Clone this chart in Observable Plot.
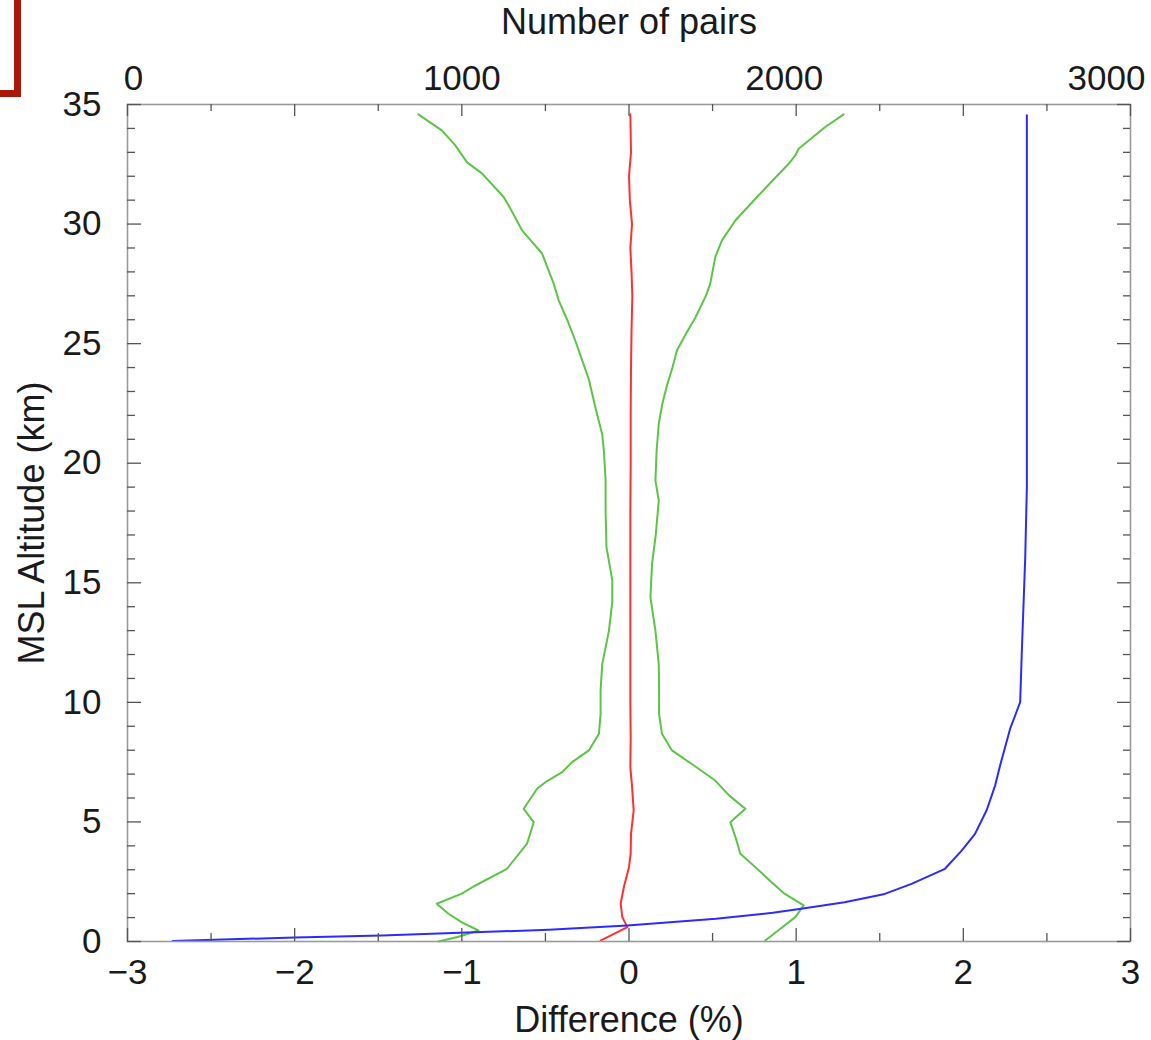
<!DOCTYPE html>
<html><head><meta charset="utf-8">
<script src="https://cdn.jsdelivr.net/npm/d3@7"></script>
<script src="https://cdn.jsdelivr.net/npm/@observablehq/plot@0.6"></script>
<style>
body{margin:0;background:#fff;}
#wrap{position:relative;width:1151px;height:1040px;overflow:hidden;background:#fff;}
#box{position:absolute;left:-20px;top:-20px;width:41px;height:117px;box-sizing:border-box;border:7px solid #a8190b;}
#chart{position:absolute;left:0;top:0;}
</style>
</head><body>
<div id="wrap"><div id="chart"></div><div id="box"></div></div>
<script>
// Mean difference (%) vs altitude (km)
const meanAlt  = [0.04,0.6,1.02,1.58,2.3,3.11,3.67,4.5,5.48,6.5,7.29,8.5,10,12,15,18,20,22,24,25.5,27,28,29,30,31,32,33,34.59];
const meanDiff = [-0.17,-0.01,-0.04,-0.05,-0.03,0.0,0.01,0.012,0.028,0.018,0.008,0.01,0.008,0.008,0.008,0.008,0.01,0.01,0.012,0.015,0.02,0.015,0.008,0.018,0.005,0.0,0.012,0.008];

// Mean - 1 sigma
const lowAlt  = [0.0,0.2,0.46,0.8,1.16,1.58,2.0,2.3,3.04,4.09,4.99,5.55,6.39,6.66,7.08,7.5,7.99,8.69,9.5,10.5,11.6,13.0,14.2,15.1,16.5,18.0,19.3,20.5,21.2,22.3,23.5,24.5,25.1,26.0,26.8,27.5,28.77,29.74,30.78,31.13,32.12,32.59,33.3,33.92,34.59];
const lowDiff = [-1.14,-1.02,-0.90,-1.0,-1.08,-1.15,-1.0,-0.93,-0.73,-0.61,-0.57,-0.63,-0.55,-0.50,-0.40,-0.34,-0.24,-0.18,-0.17,-0.17,-0.16,-0.12,-0.10,-0.10,-0.135,-0.14,-0.14,-0.15,-0.16,-0.20,-0.24,-0.29,-0.32,-0.37,-0.42,-0.45,-0.52,-0.64,-0.72,-0.75,-0.88,-0.97,-1.04,-1.12,-1.26];

// Mean + 1 sigma
const highAlt  = [0.04,0.5,1.02,1.51,2.0,2.5,3.11,3.67,4.3,4.99,5.55,6.1,6.73,7.4,7.99,8.69,9.5,10.5,11.6,13.0,14.4,15.8,17.0,18.44,19.28,20.5,21.65,22.5,23.25,24.0,24.72,25.4,26.06,27.0,27.51,28.62,29.32,30.15,31.06,32.52,32.87,33.15,34.06,34.59];
const highDiff = [0.815,0.9,0.995,1.045,0.93,0.85,0.756,0.666,0.64,0.606,0.696,0.6,0.516,0.38,0.257,0.197,0.18,0.18,0.178,0.158,0.128,0.138,0.16,0.178,0.158,0.165,0.178,0.2,0.227,0.26,0.287,0.34,0.395,0.46,0.486,0.516,0.556,0.636,0.756,0.955,0.995,1.015,1.174,1.284];

// Number of pairs vs altitude (top axis)
const pairsAlt = [0.02,0.17,0.25,0.49,0.67,0.95,1.2,1.37,1.64,1.99,2.41,3.04,3.8,4.5,5.5,6.52,7.36,8.9,9.45,10.01,12.17,16,19,25,34.55];
const pairsN   = [135,500,760,1260,1495,1760,1930,2015,2145,2265,2345,2445,2495,2535,2570,2595,2610,2640,2655,2670,2675,2685,2690,2690,2690];

// Axis ticks and labels
const diffLabels  = [-3,-2,-1,0,1,2,3];
const diffMinor   = [-2.5,-1.5,-0.5,0.5,1.5,2.5];
const altLabels   = [0,5,10,15,20,25,30,35];
const altMinor    = [1,2,3,4,6,7,8,9,11,12,13,14,16,17,18,19,21,22,23,24,26,27,28,29,31,32,33,34];
const pairsLabels = [0,1000,2000,3000];
const pairsMajor  = [0,500,1000,1500,2000,2500,3000];
const pairsMinor  = [250,750,1250,1750,2250,2750];

// top axis (0..3000 pairs) shares the frame with bottom axis (-3..3 %)
const pairsToX = p => p / 500 - 3;

const W = 1151, H = 1040, ML = 127, MR = 21, MT = 104, MB = 99;
const PW = W - ML - MR, PH = H - MT - MB;

const zip = (a, b, k1, k2) => a.map((v, i) => ({[k1]: v, [k2]: b[i]}));
const meanData = zip(meanAlt, meanDiff, "alt", "x");
const lowData = zip(lowAlt, lowDiff, "alt", "x");
const highData = zip(highAlt, highDiff, "alt", "x");
const pairsData = zip(pairsAlt, pairsN, "alt", "n");

const fmt = d => d < 0 ? "\u2212" + Math.abs(d) : String(d);
const txt = "#1a1a1a", tick = "#555";
const topDx = [6, 0, -12, -24];
const tickFont = 35, titleFont = 36;

const chart = Plot.plot({
  width: W, height: H,
  marginLeft: ML, marginRight: MR, marginTop: MT, marginBottom: MB,
  x: {domain: [-3, 3], axis: null},
  y: {domain: [0, 35], axis: null},
  style: {fontFamily: "'Liberation Sans', Arial, Helvetica, sans-serif", fontSize: "35px", background: "#fff"},
  marks: [
    // data
    Plot.line(lowData, {x: "x", y: "alt", stroke: "#5cc446", strokeWidth: 2}),
    Plot.line(highData, {x: "x", y: "alt", stroke: "#5cc446", strokeWidth: 2}),
    Plot.line(meanData, {x: "x", y: "alt", stroke: "#ff3030", strokeWidth: 2}),
    Plot.line(pairsData, {x: d => pairsToX(d.n), y: "alt", stroke: "#2b2bff", strokeWidth: 2}),
    // frame
    Plot.frame({stroke: "#9a9a9a", strokeWidth: 1.6}),
    // bottom ticks (inward)
    Plot.tickX(diffLabels, {x: d => d, insetTop: PH - 13, stroke: tick, strokeWidth: 1.3}),
    Plot.tickX(diffMinor, {x: d => d, insetTop: PH - 8, stroke: tick, strokeWidth: 1.3}),
    // top ticks (inward)
    Plot.tickX(pairsMajor, {x: pairsToX, insetBottom: PH - 12, stroke: tick, strokeWidth: 1.3}),
    Plot.tickX(pairsMinor, {x: pairsToX, insetBottom: PH - 7, stroke: tick, strokeWidth: 1.3}),
    // left ticks
    Plot.tickY(altLabels, {y: d => d, insetRight: PW - 14, stroke: tick, strokeWidth: 1.3}),
    Plot.tickY(altMinor, {y: d => d, insetRight: PW - 8, stroke: tick, strokeWidth: 1.3}),
    // right ticks
    Plot.tickY(altLabels, {y: d => d, insetLeft: PW - 13, stroke: tick, strokeWidth: 1.3}),
    Plot.tickY(altMinor, {y: d => d, insetLeft: PW - 7, stroke: tick, strokeWidth: 1.3}),
    // tick labels
    Plot.text(diffLabels, {x: d => d, frameAnchor: "bottom", lineAnchor: "middle", dy: 31, text: fmt, fill: txt, fontSize: tickFont}),
    Plot.text(altLabels, {y: d => d, frameAnchor: "left", lineAnchor: "middle", dx: -26, textAnchor: "end", text: String, fill: txt, fontSize: tickFont}),
    ...pairsLabels.map((p, i) => Plot.text([p], {x: pairsToX, frameAnchor: "top", lineAnchor: "middle", dy: -26, dx: topDx[i], text: String, fill: txt, fontSize: tickFont})),
    // axis titles
    Plot.text(["Number of pairs"], {frameAnchor: "top", lineAnchor: "middle", dy: -82, text: d => d, fill: txt, fontSize: titleFont}),
    Plot.text(["Difference (%)"], {frameAnchor: "bottom", lineAnchor: "middle", dy: 79, text: d => d, fill: txt, fontSize: titleFont}),
    Plot.text(["MSL Altitude (km)"], {frameAnchor: "left", lineAnchor: "middle", textAnchor: "middle", dx: -95, rotate: -90, text: d => d, fill: txt, fontSize: titleFont})
  ]
});
document.getElementById("chart").appendChild(chart);
</script>
</body></html>
